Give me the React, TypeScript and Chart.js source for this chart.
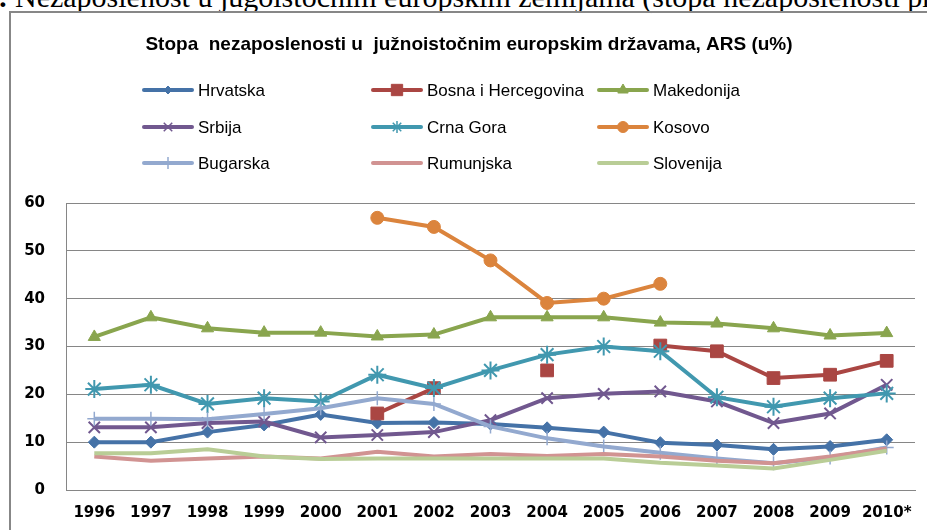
import React, { useEffect, useRef } from "react";
import { Chart, registerables } from "chart.js";
import { drawPoint } from "chart.js/helpers";

Chart.register(...registerables);

const years = ["1996", "1997", "1998", "1999", "2000", "2001", "2002", "2003", "2004", "2005", "2006", "2007", "2008", "2009", "2010*"];

const hrvatska = [10, 10, 12.1, 13.6, 15.8, 14, 14.1, 13.8, 13, 12.1, 9.9, 9.4, 8.5, 9.1, 10.5];
const bosna = [null, null, null, null, null, 16, 21.3, null, 25, null, 30.2, 29, 23.4, 24.1, 27];
const makedonija = [32, 36.1, 33.8, 32.9, 32.9, 32.1, 32.5, 36.1, 36.1, 36.1, 35, 34.8, 33.8, 32.3, 32.8];
const srbija = [13.1, 13.1, 14, 14.3, 11, 11.5, 12.1, 14.6, 19.2, 20.1, 20.6, 18.5, 14, 16, 22];
const crnaGora = [21.1, 22, 18, 19.2, 18.5, 24.1, 21.3, 25, 28.3, 30, 29, 19.4, 17.4, 19.2, 20.2];
const kosovo = [null, null, null, null, null, 56.9, 55, 48, 39.1, 40, 43.1, null, null, null, null];
const bugarska = [14.9, 14.9, 14.8, 15.9, 17.1, 19.2, 18, 13.3, 10.8, 9.1, 7.8, 6.6, 5.6, 6.8, 8.9];
const rumunjska = [7, 6.1, 6.6, 7, 6.6, 8, 7, 7.5, 7.1, 7.5, 7, 6.1, 5.6, 7, 8.7];
const slovenija = [7.7, 7.7, 8.5, 7, 6.5, 6.6, 6.6, 6.6, 6.6, 6.6, 5.7, 5.1, 4.5, 6.3, 8.2];

const seriesNames = ["Hrvatska", "Bosna i Hercegovina", "Makedonija", "Srbija", "Crna Gora", "Kosovo", "Bugarska", "Rumunjska", "Slovenija"];
const seriesData = [hrvatska, bosna, makedonija, srbija, crnaGora, kosovo, bugarska, rumunjska, slovenija];
const seriesColors = ["#4572A7", "#AA4643", "#89A54E", "#71588F", "#4198AF", "#DB843D", "#93A9CF", "#D19392", "#B9CD96"];
const seriesMarkers = ["rectRot", "rect", "triangle", "crossRot", "star", "circle", "cross", "circle", "circle"];
const markerRadius = [6, 9, 7, 8, 9, 6.5, 7, 0, 0];
const markerBorder = [1, 1, 1, 2, 2, 1, 1.5, 0, 0];
const legendMarkerRadius = [4, 8, 6, 6, 6, 5.5, 6, 0, 0];

const yTicks = [0, 10, 20, 30, 40, 50, 60];

const TITLE = "Stopa  nezaposlenosti u  južnoistočnim europskim državama, ARS (u%)";
const LEGEND_COLS = [131, 360, 586];
const LEGEND_ROWS = [77, 114, 150];

const legendPlugin = {
  id: "gridLegend",
  afterDraw(chart: any) {
    const ctx = chart.ctx as CanvasRenderingContext2D;
    ctx.save();
    ctx.fillStyle = "#000";
    ctx.font = 'bold 19px "Liberation Sans"';
    ctx.textAlign = "center";
    ctx.textBaseline = "middle";
    ctx.fillText(TITLE, 458, 32);

    ctx.font = '17px "Liberation Sans"';
    ctx.textAlign = "left";
    seriesNames.forEach((name, i) => {
      const x = LEGEND_COLS[i % 3];
      const y = LEGEND_ROWS[Math.floor(i / 3)];
      ctx.strokeStyle = seriesColors[i];
      ctx.lineWidth = 4;
      ctx.lineCap = "round";
      ctx.beginPath();
      ctx.moveTo(x + 2, y);
      ctx.lineTo(x + 50, y);
      ctx.stroke();
      if (legendMarkerRadius[i] > 0) {
        ctx.fillStyle = seriesColors[i];
        ctx.strokeStyle = seriesColors[i];
        ctx.lineWidth = markerBorder[i] > 1 ? 1.5 : 1;
        ctx.lineCap = "butt";
        drawPoint(ctx, { pointStyle: seriesMarkers[i], rotation: 0, radius: legendMarkerRadius[i], borderWidth: markerBorder[i] }, x + 26, y);
      }
      ctx.fillStyle = "#000";
      ctx.fillText(name, x + 56, y + 1);
    });
    ctx.restore();
  },
};

export default function App() {
  const ref = useRef<HTMLCanvasElement>(null);
  useEffect(() => {
    const datasets = seriesNames.map((name, i) => ({
      label: name,
      data: seriesData[i],
      borderColor: seriesColors[i],
      backgroundColor: seriesColors[i],
      borderWidth: 4,
      pointStyle: seriesMarkers[i],
      pointRadius: markerRadius[i],
      pointHoverRadius: markerRadius[i],
      pointBackgroundColor: seriesColors[i],
      pointBorderColor: seriesColors[i],
      pointBorderWidth: markerBorder[i],
      spanGaps: false,
      tension: 0,
      fill: false,
      order: seriesNames.length - i,
    }));
    const chart = new Chart(ref.current as HTMLCanvasElement, {
      type: "line",
      data: { labels: years, datasets: datasets as any },
      options: {
        animation: false,
        responsive: false,
        events: [],
        layout: { padding: { top: 190, right: 12, left: 0, bottom: 0 } },
        plugins: { legend: { display: false }, title: { display: false }, tooltip: { enabled: false } },
        scales: {
          x: {
            type: "category",
            offset: true,
            grid: { display: false, drawTicks: false },
            border: { display: true, color: "#868686", width: 1 },
            ticks: { color: "#000", font: { family: "DejaVu Sans", size: 15, weight: "bold" }, padding: 14, maxRotation: 0, autoSkip: false },
            afterFit: (s: any) => { s.height = 40; },
          },
          y: {
            min: 0,
            max: 60,
            afterBuildTicks: (s: any) => { s.ticks = yTicks.map((v) => ({ value: v })); },
            grid: { color: "#868686", lineWidth: 1, drawTicks: false },
            border: { display: true, color: "#868686", width: 1 },
            ticks: { color: "#000", font: { family: "DejaVu Sans", size: 15, weight: "bold" }, padding: 21 },
            afterFit: (s: any) => { s.width = 55; },
          },
        },
      },
      plugins: [legendPlugin],
    });
    return () => chart.destroy();
  }, []);

  return (
    <div style={{ position: "fixed", left: 0, top: 0, width: 927, height: 530, overflow: "hidden", background: "#fff" }}>
      <div style={{ position: "absolute", right: 919, top: -18, font: 'bold 30px "Liberation Serif"', lineHeight: "30px", whiteSpace: "nowrap", color: "#000" }}>
        Grafikon 1:
      </div>
      <div style={{ position: "absolute", left: 15, top: -18, font: '30px "Liberation Serif"', lineHeight: "30px", whiteSpace: "nowrap", color: "#000" }}>
        Nezaposlenost u jugoistočnim europskim zemljama (stopa nezaposlenosti prema ARS-u)
      </div>
      <div style={{ position: "absolute", left: 9, top: 11, width: 960, height: 560, border: "2px solid #878787", boxSizing: "border-box" }} />
      <canvas ref={ref} width={916} height={517} style={{ position: "absolute", left: 11, top: 13, width: 916, height: 517 }} />
    </div>
  );
}
